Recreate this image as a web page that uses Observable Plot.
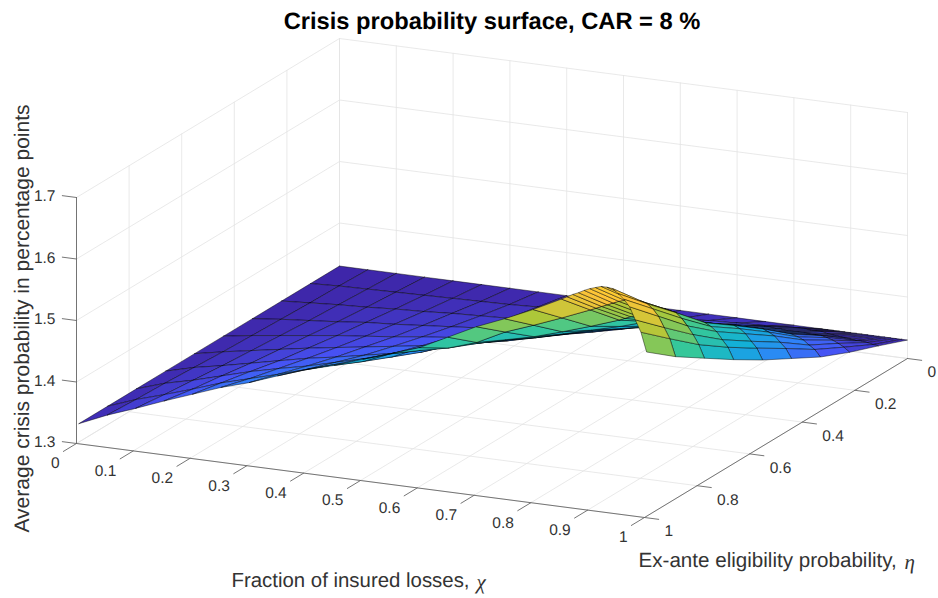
<!DOCTYPE html>
<html>
<head>
<meta charset="utf-8">
<script src="https://cdn.jsdelivr.net/npm/d3@7"></script>
<script src="https://cdn.jsdelivr.net/npm/@observablehq/plot@0.6"></script>
<style>
html,body{margin:0;padding:0;background:#fff;}
#title{height:38px;width:938px;box-sizing:border-box;padding:8px 0 0 46px;text-align:center;font:bold 23.7px/28px "Liberation Sans",Arial,sans-serif;color:#000;text-rendering:geometricPrecision;}
svg{display:block;text-rendering:geometricPrecision;}
</style>
</head>
<body>
<div id="title">Crisis probability surface, CAR = 8 %</div>
<div id="chart"></div>
<script>
// Mesh coordinates
const chi = [0,0.05,0.1,0.15,0.2,0.25,0.3,0.35,0.4,0.45,0.5,0.55,0.6,0.65,0.7,0.75,0.8,0.85,0.86,0.87,0.88,0.89,0.9,0.91,0.92,0.93,0.94,0.95,0.96,0.97,0.98,0.99,1];
const eta = [0,0.110,0.220,0.331,0.441,0.551,0.661,0.772,0.882,0.992];
// Crisis probability along chi, one list per eta
const zEta0 = [1.330,1.330,1.330,1.330,1.330,1.330,1.330,1.330,1.330,1.330,1.330,1.330,1.330,1.330,1.330,1.330,1.330,1.330,1.330,1.330,1.330,1.330,1.330,1.330,1.330,1.330,1.330,1.330,1.330,1.330,1.330,1.330,1.330];
const zEta1 = [1.330,1.332,1.333,1.334,1.335,1.336,1.337,1.338,1.340,1.341,1.342,1.344,1.348,1.351,1.354,1.356,1.358,1.361,1.361,1.361,1.360,1.360,1.360,1.358,1.357,1.356,1.355,1.354,1.353,1.353,1.352,1.350,1.349];
const zEta2 = [1.330,1.333,1.336,1.338,1.341,1.343,1.346,1.348,1.350,1.352,1.355,1.360,1.365,1.372,1.378,1.382,1.387,1.391,1.391,1.390,1.390,1.389,1.389,1.389,1.389,1.388,1.388,1.388,1.386,1.383,1.379,1.374,1.367];
const zEta3 = [1.330,1.335,1.339,1.343,1.348,1.351,1.355,1.359,1.363,1.366,1.370,1.377,1.385,1.391,1.403,1.409,1.415,1.422,1.421,1.421,1.420,1.420,1.419,1.419,1.419,1.419,1.419,1.419,1.416,1.412,1.405,1.399,1.388];
const zEta4 = [1.330,1.337,1.343,1.349,1.355,1.360,1.365,1.371,1.376,1.381,1.386,1.395,1.405,1.415,1.427,1.435,1.443,1.452,1.453,1.453,1.454,1.454,1.455,1.455,1.455,1.455,1.456,1.456,1.452,1.447,1.438,1.429,1.414];
const zEta5 = [1.330,1.339,1.347,1.355,1.363,1.370,1.377,1.384,1.391,1.397,1.408,1.417,1.428,1.440,1.451,1.461,1.471,1.483,1.484,1.485,1.485,1.486,1.487,1.488,1.489,1.489,1.490,1.490,1.486,1.479,1.468,1.458,1.440];
const zEta6 = [1.330,1.342,1.351,1.361,1.371,1.381,1.389,1.398,1.407,1.415,1.432,1.442,1.453,1.463,1.475,1.487,1.499,1.513,1.515,1.517,1.519,1.521,1.523,1.523,1.523,1.523,1.523,1.523,1.518,1.511,1.499,1.488,1.469];
const zEta7 = [1.330,1.345,1.356,1.369,1.382,1.393,1.403,1.415,1.427,1.436,1.457,1.466,1.476,1.488,1.499,1.513,1.528,1.544,1.548,1.552,1.555,1.559,1.563,1.567,1.570,1.572,1.570,1.568,1.560,1.549,1.536,1.521,1.500];
const zEta8 = [1.330,1.347,1.361,1.376,1.392,1.405,1.418,1.432,1.446,1.457,1.476,1.487,1.497,1.512,1.535,1.552,1.570,1.589,1.593,1.597,1.601,1.605,1.609,1.612,1.615,1.615,1.614,1.611,1.604,1.593,1.576,1.559,1.531];
const zEta9 = [1.330,1.350,1.367,1.385,1.402,1.419,1.433,1.450,1.466,1.479,1.495,1.510,1.526,1.549,1.572,1.591,1.612,1.635,1.640,1.645,1.649,1.654,1.658,1.661,1.664,1.664,1.663,1.656,1.648,1.637,1.617,1.598,1.567];
const zRows = [zEta0,zEta1,zEta2,zEta3,zEta4,zEta5,zEta6,zEta7,zEta8,zEta9];

// Axis ticks
const chiTicks = [0,0.1,0.2,0.3,0.4,0.5,0.6,0.7,0.8,0.9,1];
const etaTicks = [0,0.2,0.4,0.6,0.8,1];
const zTicks = [1.3,1.4,1.5,1.6,1.7];
const zFloor = 1.3, zCeil = 1.7;

// Parula colormap anchors and colour limits
const parula = ["#3e26a8","#4752f4","#2d87f7","#12b1d6","#37c897","#abc739","#fec338","#f9fb14"];
const colorLimits = [1.33,1.68];

// Orthographic view of the MATLAB axes box (azimuth/elevation fitted to the picture)
const view = {ox:339, oy:284, cx:568, cy:74, ex:-263, ey:159, zy:-615};
const project = (c,e,z) => ({
  x: view.ox + c*view.cx + e*view.ex,
  y: view.oy + c*view.cy + e*view.ey + (z-zFloor)*view.zy
});
const depth = (c,e,z) => (c*view.cy + e*view.ey)*3.41 + (z-zFloor)*(-view.zy)*0.292;

// Surface facets, back to front; each facet is coloured by the mean of its corners
let cells = [];
for (let k=0;k<eta.length-1;k++) for (let i=0;i<chi.length-1;i++) {
  const cs = [[i,k],[i+1,k],[i+1,k+1],[i,k+1],[i,k]].map(([a,b])=>[chi[a],eta[b],zRows[b][a]]);
  const four = cs.slice(0,4);
  cells.push({cs, c:d3.mean(four,p=>p[2]), d:d3.mean(four,p=>depth(...p))});
}
cells = d3.sort(cells,d=>d.d);
const facetPts = cells.flatMap((f,n)=>f.cs.map(p=>({...project(...p),cell:n,c:f.c})));

// Walls and floor grid
const seg = (list,id)=>list.map(p=>({...project(...p),id}));
const gridPts = [
  ...chiTicks.flatMap(c=>[...seg([[c,1,zFloor],[c,0,zFloor],[c,0,zCeil]],"c"+c)]),
  ...etaTicks.flatMap(e=>[...seg([[1,e,zFloor],[0,e,zFloor],[0,e,zCeil]],"e"+e)]),
  ...zTicks.flatMap(z=>[...seg([[0,1,z],[0,0,z],[1,0,z]],"z"+z)])
];
// Axis lines and tick marks
const axisPts = [
  ...seg([[0,1,zFloor],[1,1,zFloor],[1,0,zFloor]],"a"),
  ...seg([[0,1,zFloor],[0,1,zCeil]],"b"),
  ...chiTicks.flatMap(c=>seg([[c,1,zFloor],[c,1.05,zFloor]],"tc"+c)),
  ...etaTicks.flatMap(e=>seg([[1,e,zFloor],[1.025,e,zFloor]],"te"+e)),
  ...zTicks.flatMap(z=>seg([[0,1,z],[-0.025,1,z]],"tz"+z))
];
const off = (p,dx,dy,t)=>({x:p.x+dx,y:p.y+dy,t:String(t)});
const chiLabels = chiTicks.map(c=>off(project(c,1,zFloor),-17,20,c));
const etaLabels = etaTicks.map(e=>off(project(1,e,zFloor),20,14,e));
const zLabels = zTicks.map(z=>off(project(0,1,z),-21,-1,z.toFixed(1)));

const sans = "'Liberation Sans',Arial,sans-serif";
const serif = "'Liberation Serif',serif";
const svgTop = 38;
const chart = Plot.plot({
  width:938, height:598-svgTop, margin:0,
  style:{fontFamily:sans, background:"#fff"},
  x:{domain:[0,938], range:[0,938], axis:null},
  y:{domain:[svgTop,598], range:[0,598-svgTop], axis:null},
  color:{type:"linear", domain:colorLimits, interpolate:d3.piecewise(d3.interpolateRgb,parula)},
  marks:[
    Plot.line(gridPts,{x:"x",y:"y",z:"id",stroke:"#e3e3e3",strokeWidth:0.8}),
    Plot.line(axisPts,{x:"x",y:"y",z:"id",stroke:"#666",strokeWidth:0.9}),
    Plot.line(facetPts,{x:"x",y:"y",z:"cell",fill:"c",stroke:"#000",strokeWidth:0.5,strokeOpacity:0.9}),
    Plot.text(chiLabels,{x:"x",y:"y",text:"t",textAnchor:"end",fontSize:15.5,fill:"#333"}),
    Plot.text(etaLabels,{x:"x",y:"y",text:"t",textAnchor:"start",fontSize:15.5,fill:"#333"}),
    Plot.text(zLabels,{x:"x",y:"y",text:"t",textAnchor:"end",fontSize:15.5,fill:"#333"}),
    Plot.text(["Average crisis probability in percentage points"],{x:[22],y:[318],rotate:-90,fontSize:21,fill:"#333"}),
    Plot.text(["Fraction of insured losses, "],{x:[231],y:[580],textAnchor:"start",fontSize:20.4,fill:"#333"}),
    Plot.text(["χ"],{x:[476],y:[582],textAnchor:"start",fontSize:21,fontStyle:"italic",fontFamily:serif,fill:"#333"}),
    Plot.text(["Ex-ante eligibility probability, "],{x:[638],y:[560],textAnchor:"start",fontSize:20.6,fill:"#333"}),
    Plot.text(["η"],{x:[904],y:[562],textAnchor:"start",fontSize:21,fontStyle:"italic",fontFamily:serif,fill:"#333"})
  ]
});
document.getElementById("chart").appendChild(chart);
</script>
</body>
</html>
